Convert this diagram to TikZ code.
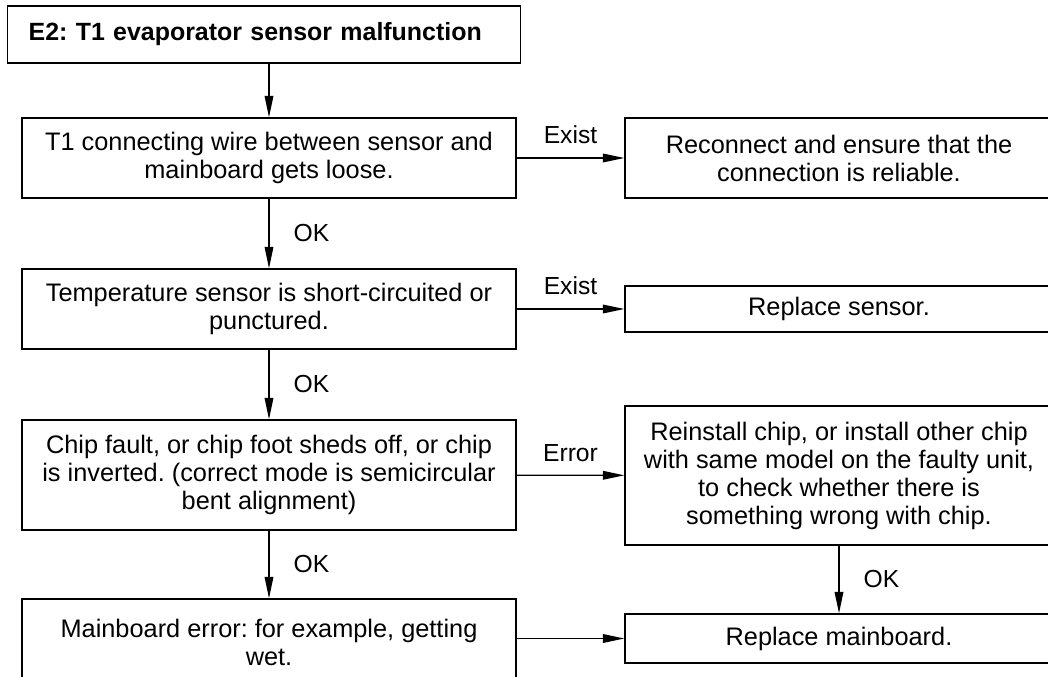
\documentclass[tikz,border=0pt]{standalone}
\usepackage{fontspec}
\setmainfont{Liberation Sans}
\frenchspacing
\usetikzlibrary{
    arrows.meta,  % Triangle arrow tips
    positioning   % above=, right=
}

\tikzset{
    box/.style={draw, line width=1.1pt, align=center, inner sep=0pt,
        font=\fontsize{19}{21}\selectfont},
    flow/.style={-{Triangle[length=16pt, width=6.5pt]}, line width=0.9pt},
    lbl/.style={inner sep=0pt, font=\fontsize{18.5}{21}\selectfont}
}

\begin{document}
\begin{tikzpicture}[x=0.75pt, y=-0.75pt]
    \useasboundingbox (0,0) rectangle (1048,677);

    % Title
    \node[box, anchor=west, text width=471*0.75pt, inner xsep=21*0.75pt,
        minimum height=57*0.75pt, align=left, font=\fontsize{18.7}{21}\selectfont\bfseries]
        (title) at (7,34.5) {E2: T1 evaporator sensor malfunction};

    % Checks (left column)
    \node[box, minimum width=494*0.75pt, minimum height=80*0.75pt] (wire) at (269,158)
        {T1 connecting wire between sensor and\\mainboard gets loose.};
    \node[box, minimum width=494*0.75pt, minimum height=80*0.75pt] (sensor) at (269,309)
        {Temperature sensor is short-circuited or\\punctured.};
    \node[box, minimum width=494*0.75pt, minimum height=110*0.75pt] (chip) at (269,475)
        {Chip fault, or chip foot sheds off, or chip\\is inverted. (correct mode is semicircular\\bent alignment)};
    \node[box, minimum width=494*0.75pt, minimum height=86*0.75pt] (board) at (269,642)
        {Mainboard error: for example, getting\\wet.};

    % Actions (right column)
    \node[box, minimum width=428*0.75pt, minimum height=80*0.75pt] (reconnect) at (839,158)
        {Reconnect and ensure that the\\connection is reliable.};
    \node[box, minimum width=428*0.75pt, minimum height=46*0.75pt] (newsensor) at (839,309)
        {Replace sensor.};
    \node[box, minimum width=428*0.75pt, minimum height=139*0.75pt] (reinstall) at (839,475.5)
        {Reinstall chip, or install other chip\\with same model on the faulty unit,\\to check whether there is\\something wrong with chip.};
    \node[box, minimum width=428*0.75pt, minimum height=49*0.75pt] (newboard) at (839,638.5)
        {Replace mainboard.};

    % Connectors
    \draw[flow] (title.south -| wire.north) -- (wire.north);
    \draw[flow] (wire) -- node[lbl, right=18pt] {OK} (sensor);
    \draw[flow] (sensor) -- node[lbl, right=18pt] {OK} (chip);
    \draw[flow] (chip) -- node[lbl, right=18pt] {OK} (board);

    \draw[flow] (wire) -- node[lbl, above=10pt] {Exist} (reconnect);
    \draw[flow] (sensor) -- node[lbl, above=10pt] {Exist} (newsensor);
    \draw[flow] (chip) -- node[lbl, above=10pt] {Error} (reinstall);
    \draw[flow] (board.east |- newboard) -- (newboard);
    \draw[flow] (reinstall) -- node[lbl, right=18pt] {OK} (newboard);
\end{tikzpicture}
\end{document}
